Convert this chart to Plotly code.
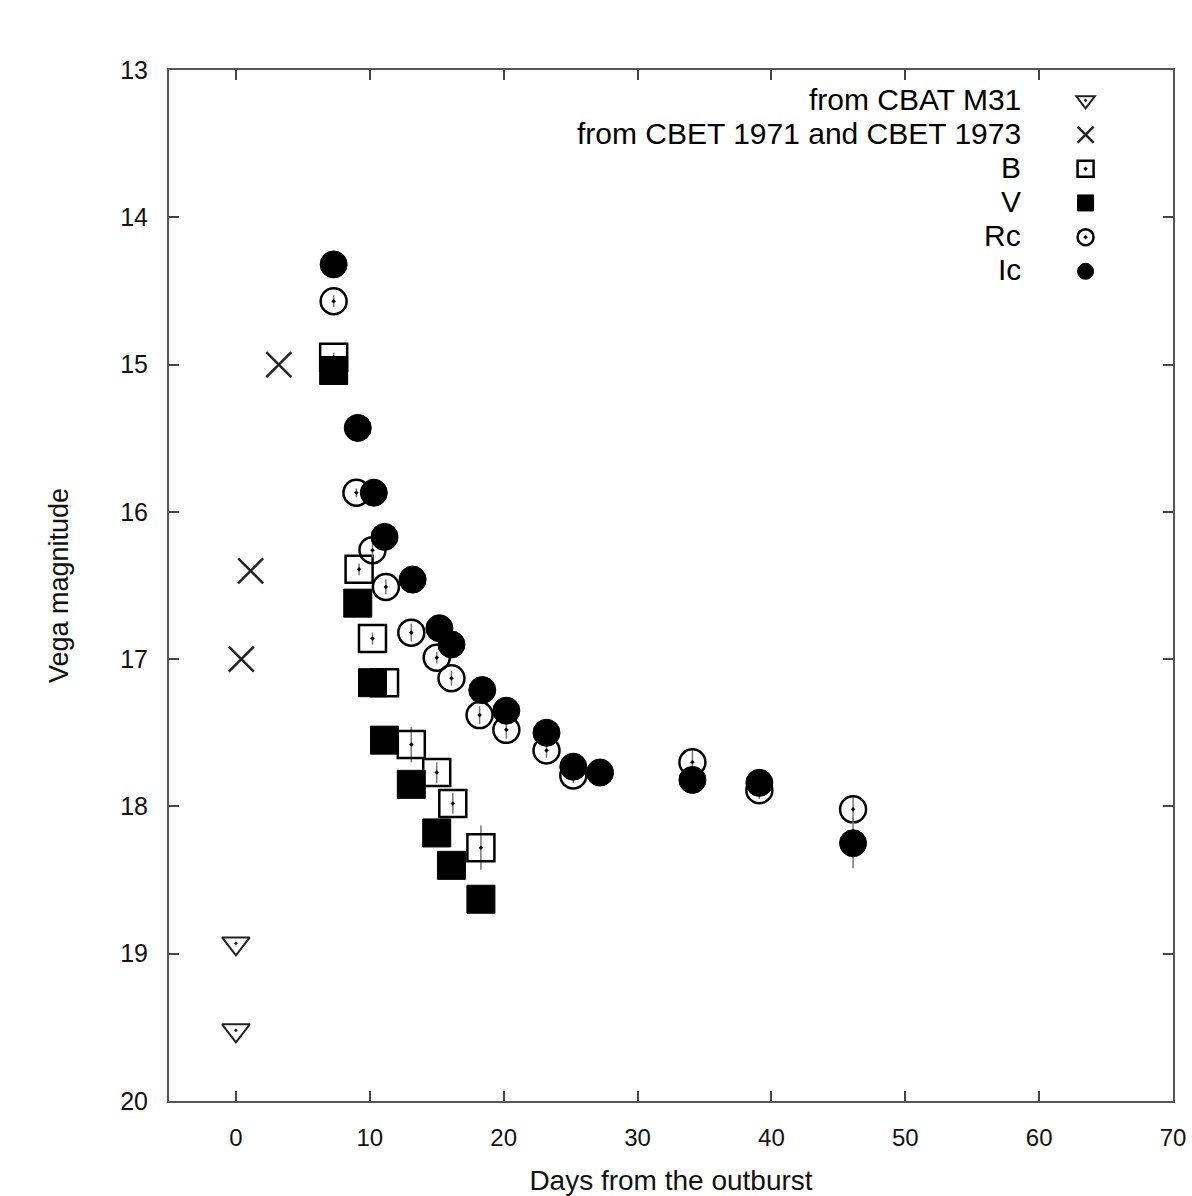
import plotly.graph_objects as go

# ---- data (days from outburst, Vega magnitude) ----
cbat_x = [0.0, 0.0]
cbat_y = [18.93, 19.52]

cbet_x = [3.2, 1.1, 0.4]
cbet_y = [15.0, 16.4, 17.0]

b_x = [7.3, 9.2, 10.2, 11.1, 13.1, 15.0, 16.2, 18.3]
b_y = [14.95, 16.39, 16.86, 17.16, 17.58, 17.77, 17.98, 18.28]
b_err = [0.03, 0.04, 0.04, 0.05, 0.12, 0.07, 0.07, 0.15]

v_x = [7.3, 9.1, 10.2, 11.1, 13.1, 15.0, 16.1, 18.3]
v_y = [15.04, 16.62, 17.16, 17.55, 17.85, 18.18, 18.40, 18.63]
v_err = [0.03, 0.03, 0.03, 0.04, 0.05, 0.05, 0.05, 0.06]

rc_x = [7.3, 9.0, 10.2, 11.2, 13.1, 15.0, 16.1, 18.2, 20.2, 23.2, 25.2, 34.1, 39.1, 46.1]
rc_y = [14.57, 15.87, 16.26, 16.51, 16.82, 16.99, 17.13, 17.38, 17.48, 17.62, 17.79, 17.70, 17.89, 18.02]
rc_err = [0.04, 0.03, 0.05, 0.05, 0.06, 0.04, 0.05, 0.06, 0.06, 0.05, 0.05, 0.08, 0.06, 0.08]

ic_x = [7.3, 9.1, 10.3, 11.1, 13.2, 15.2, 16.1, 18.4, 20.2, 23.2, 25.2, 27.2, 34.1, 39.1, 46.1]
ic_y = [14.32, 15.43, 15.87, 16.17, 16.46, 16.79, 16.90, 17.21, 17.35, 17.50, 17.73, 17.77, 17.82, 17.84, 18.25]
ic_err = [0.03, 0.03, 0.03, 0.04, 0.04, 0.04, 0.04, 0.05, 0.05, 0.05, 0.05, 0.05, 0.06, 0.06, 0.17]

legend_labels = ["from CBAT M31", "from CBET 1971 and CBET 1973", "B", "V", "Rc", "Ic"]

x_ticks = [0, 10, 20, 30, 40, 50, 60, 70]
y_ticks = [13, 14, 15, 16, 17, 18, 19, 20]

FONT = "Liberation Sans, Arial, sans-serif"
BLACK = "#000000"


def err(vals):
    return dict(type="data", array=vals, visible=True, color="#777777",
                thickness=1.5, width=0)


fig = go.Figure()

fig.add_trace(go.Scatter(
    x=cbat_x, y=cbat_y, mode="markers", name=" ",
    marker=dict(symbol="triangle-down-open-dot", size=24, color="#222222",
                line=dict(width=2, color="#222222")),
))
fig.add_trace(go.Scatter(
    x=cbet_x, y=cbet_y, mode="markers", name=" ",
    marker=dict(symbol="x-thin-open", size=25, color="#222222",
                line=dict(width=2.5, color="#222222")),
))
fig.add_trace(go.Scatter(
    x=b_x, y=b_y, mode="markers", name=" ", error_y=err(b_err),
    marker=dict(symbol="square-open-dot", size=27, color=BLACK,
                line=dict(width=2.5, color=BLACK)),
))
fig.add_trace(go.Scatter(
    x=v_x, y=v_y, mode="markers", name=" ", error_y=err(v_err),
    marker=dict(symbol="square", size=28, color=BLACK,
                line=dict(width=1, color=BLACK)),
))
fig.add_trace(go.Scatter(
    x=rc_x, y=rc_y, mode="markers", name=" ", error_y=err(rc_err),
    marker=dict(symbol="circle-open-dot", size=26, color=BLACK,
                line=dict(width=2.5, color=BLACK)),
))
fig.add_trace(go.Scatter(
    x=ic_x, y=ic_y, mode="markers", name=" ", error_y=err(ic_err),
    marker=dict(symbol="circle", size=27, color=BLACK,
                line=dict(width=1, color=BLACK)),
))

# legend text, right aligned to the left of the legend symbols
row_y0 = 0.9715
row_dy = 0.0330
for i, lab in enumerate(legend_labels):
    fig.add_annotation(
        x=0.8510, y=row_y0 - i * row_dy, xref="paper", yref="paper",
        text=lab, showarrow=False, xanchor="right", yanchor="middle",
        font=dict(family=FONT, size=30, color=BLACK),
    )

fig.update_layout(
    width=1192, height=1196,
    margin=dict(l=169, r=19, t=70, b=95, autoexpand=False),
    paper_bgcolor="white", plot_bgcolor="white",
    showlegend=True,
    legend=dict(x=0.893, y=0.992, xanchor="left", yanchor="top",
                bgcolor="rgba(0,0,0,0)", borderwidth=0,
                font=dict(family=FONT, size=24, color=BLACK),
                itemsizing="trace", tracegroupgap=0),
    font=dict(family=FONT, color=BLACK),
)

fig.update_xaxes(
    range=[-5, 70], tickmode="array", tickvals=x_ticks,
    ticktext=[str(t) for t in x_ticks], automargin=False,
    ticks="inside", ticklen=10, tickwidth=2, tickcolor="#444444",
    showline=True, linecolor="#555555", linewidth=2, mirror="ticks",
    showgrid=False, zeroline=False, ticklabelstandoff=14,
    tickfont=dict(family=FONT, size=24, color="#111111"),
    title=dict(text="Days from the outburst", standoff=28,
               font=dict(family=FONT, size=28, color="#111111")),
)
fig.update_yaxes(
    range=[20, 13], tickmode="array", tickvals=y_ticks,
    ticktext=[str(t) for t in y_ticks], automargin=False,
    ticks="inside", ticklen=10, tickwidth=2, tickcolor="#444444",
    showline=True, linecolor="#555555", linewidth=2, mirror="ticks",
    showgrid=False, zeroline=False, ticklabelstandoff=14,
    tickfont=dict(family=FONT, size=25, color="#111111"),
    title=dict(text="Vega magnitude", standoff=44,
               font=dict(family=FONT, size=27, color="#111111")),
)

fig.write_html("out.html")
